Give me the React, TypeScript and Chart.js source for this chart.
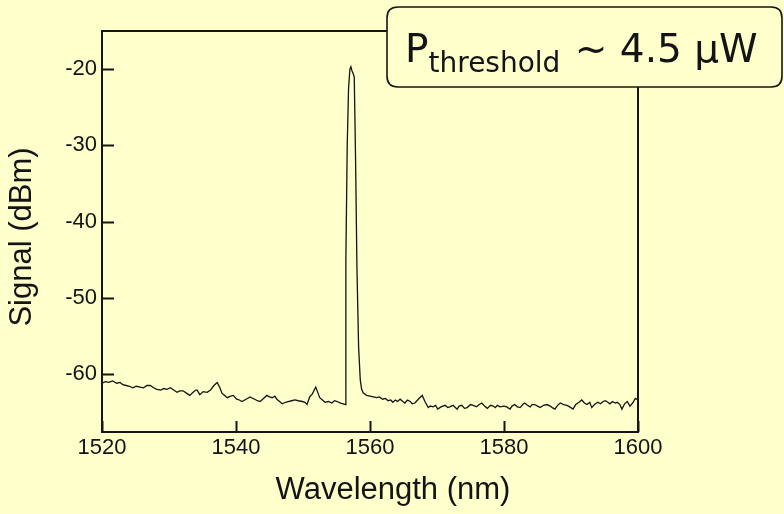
import React, { useEffect, useRef } from "react";
import { Chart, registerables } from "chart.js";

Chart.register(...registerables);

// ---- data ----
const wavelengths: number[] = [
  1520.0, 1520.5, 1521.0, 1521.6, 1522.2, 1522.7, 1523.1, 1523.6, 1524.1, 1524.6,
  1525.1, 1525.7, 1526.2, 1526.7, 1527.2, 1527.7, 1528.2, 1528.8, 1529.2, 1529.7,
  1530.2, 1530.7, 1531.2, 1531.6, 1532.1, 1532.6, 1533.1, 1533.6, 1534.0, 1534.2,
  1534.6, 1535.1, 1535.7, 1536.2, 1536.7, 1537.2, 1537.6, 1537.9, 1538.3, 1538.7,
  1539.2, 1539.6, 1540.1,
  1540.5, 1540.9, 1541.5, 1542.1, 1542.5, 1542.8, 1543.2, 1543.6, 1544.1, 1544.6,
  1545.0, 1545.4, 1545.8, 1546.1, 1546.5, 1546.9, 1547.4, 1547.8, 1548.3, 1548.8,
  1549.3, 1549.9, 1550.3, 1550.6, 1551.0, 1551.4, 1551.9, 1552.2, 1552.5, 1552.9,
  1553.3, 1553.8, 1554.3, 1554.7, 1555.1, 1555.6, 1556.0, 1556.35,
  1556.4, 1556.6, 1556.8, 1557.0, 1557.15, 1557.3, 1557.45, 1557.65, 1557.85, 1558.05,
  1558.3, 1558.55, 1558.75,
  1559.0, 1559.5, 1560.0, 1560.5, 1561.0, 1561.4, 1561.9, 1562.3, 1562.7, 1563.1,
  1563.4, 1563.8, 1564.1, 1564.5, 1564.9, 1565.2, 1565.6, 1566.0, 1566.3, 1566.7,
  1567.2, 1567.8, 1568.2, 1568.7, 1569.0, 1569.4, 1569.8, 1570.1, 1570.6, 1571.2,
  1571.6, 1571.9, 1572.4, 1573.0, 1573.3, 1573.7, 1574.1, 1574.5, 1575.0, 1575.4,
  1575.9, 1576.3, 1576.7, 1577.1, 1577.5, 1578.0, 1578.4, 1578.7, 1579.0, 1579.4,
  1580.0, 1580.4, 1580.9, 1581.2, 1581.6, 1582.0, 1582.4, 1582.8, 1583.1, 1583.5,
  1583.9, 1584.2, 1584.6, 1585.0, 1585.4, 1585.9, 1586.4, 1586.9, 1587.2, 1587.6,
  1588.0, 1588.4, 1588.9, 1589.4, 1589.8, 1590.3, 1590.7, 1591.2, 1591.6, 1592.0,
  1592.4, 1592.8, 1593.1, 1593.5, 1594.0, 1594.4, 1594.8, 1595.1, 1595.5, 1595.8,
  1596.2, 1596.6, 1596.9, 1597.3, 1597.6, 1598.0, 1598.4, 1598.8, 1599.2, 1599.6,
  1600.0,
];

const signal: number[] = [
  -61.2, -61.0, -61.1, -60.9, -61.2, -61.1, -61.4, -61.5, -61.6, -61.8,
  -61.6, -61.7, -61.8, -61.5, -61.5, -61.8, -62.0, -62.1, -61.9, -62.0,
  -61.8, -62.1, -62.4, -62.2, -62.2, -62.5, -62.8, -62.4, -62.1, -62.1,
  -62.7, -62.3, -62.4, -62.1, -61.5, -61.1, -61.8, -62.5, -62.8, -63.1,
  -62.9, -62.8, -63.3,
  -63.4, -63.6, -63.3, -63.0, -63.2, -63.3, -63.5, -63.6, -63.2, -62.8,
  -63.0, -63.1, -62.9, -63.3, -63.6, -63.9, -63.7, -63.6, -63.5, -63.4,
  -63.5, -63.6, -63.7, -64.0, -63.0, -62.6, -61.7, -62.4, -63.1, -63.4,
  -63.7, -63.6, -63.8, -63.5, -63.6, -63.8, -63.9, -64.0,
  -45.0, -30.0, -22.5, -20.0, -19.7, -20.2, -20.5, -21.0, -32.0, -46.0,
  -56.5, -60.8, -62.0,
  -62.5, -62.8, -62.9, -63.0, -63.1, -63.0, -63.3, -63.2, -63.5, -63.4,
  -63.7, -63.4, -63.6, -63.3, -63.6, -63.8, -63.4, -63.6, -63.9, -63.8,
  -63.3, -62.8, -63.6, -64.4, -64.2, -64.3, -64.1, -64.6, -64.3, -64.1,
  -64.4, -64.3, -64.1, -64.6, -64.2, -64.1, -64.5, -64.4, -64.0, -64.1,
  -64.3, -64.0, -63.8, -64.2, -64.5, -64.1, -64.2, -64.4, -64.1, -64.3,
  -64.2, -64.3, -64.6, -64.2, -64.0, -64.3, -64.4, -64.0, -63.8, -64.1,
  -64.3, -64.0, -64.0, -64.2, -64.4, -64.1, -64.0, -64.2, -64.4, -64.6,
  -64.1, -63.8, -64.0, -64.1, -64.3, -64.6, -64.0, -63.7, -63.4, -63.8,
  -64.0, -63.7, -64.4, -64.0, -63.7, -63.9, -63.6, -63.5, -63.7, -63.9,
  -63.6, -63.8, -63.7, -64.0, -64.6, -63.9, -63.6, -64.2, -63.8, -63.2,
  -63.4,
];

const xTicks: number[] = [1520, 1540, 1560, 1580, 1600];
const yTicks: number[] = [-60, -50, -40, -30, -20];
const xRange: number[] = [1520, 1600];
const yRange: number[] = [-67.6, -15];
const xTitle = "Wavelength (nm)";
const yTitle = "Signal (dBm)";
const annotationMain = "P";
const annotationSub = "threshold";
const annotationRest = " ~ 4.5 \u03BCW";

const BG = "#FFFFCC";
const INK = "#141414";
const SANS = '"Liberation Sans", Arial, sans-serif';

const framePlugin = {
  id: "frame",
  beforeDraw(chart: any) {
    const { ctx, width, height } = chart;
    ctx.save();
    ctx.fillStyle = BG;
    ctx.fillRect(0, 0, width, height);
    ctx.restore();
  },
  afterDraw(chart: any) {
    const { ctx, chartArea, scales } = chart;
    const { left, right, top, bottom } = chartArea;
    ctx.save();
    ctx.strokeStyle = INK;
    ctx.lineWidth = 2;
    ctx.strokeRect(left, top, right - left, bottom - top);
    // inward ticks
    scales.y.ticks.forEach((t: any) => {
      const py = Math.round(scales.y.getPixelForValue(t.value)) + 0.5;
      ctx.beginPath();
      ctx.moveTo(left, py);
      ctx.lineTo(left + 12, py);
      ctx.stroke();
    });
    scales.x.ticks.forEach((t: any) => {
      const px = Math.round(scales.x.getPixelForValue(t.value)) + 0.5;
      ctx.beginPath();
      ctx.moveTo(px, bottom);
      ctx.lineTo(px, bottom - 11);
      ctx.stroke();
    });

    // axis titles
    ctx.fillStyle = INK;
    ctx.font = `31px ${SANS}`;
    ctx.textAlign = "center";
    ctx.textBaseline = "middle";
    ctx.fillText(xTitle, 393, 490);
    ctx.save();
    ctx.translate(22, 237);
    ctx.rotate(-Math.PI / 2);
    ctx.fillText(yTitle, 0, 0);
    ctx.restore();

    // annotation box
    const bx = 387, by = 7, bw = 395, bh = 80, r = 11;
    ctx.beginPath();
    ctx.moveTo(bx + r, by);
    ctx.lineTo(bx + bw - r, by);
    ctx.quadraticCurveTo(bx + bw, by, bx + bw, by + r);
    ctx.lineTo(bx + bw, by + bh - r);
    ctx.quadraticCurveTo(bx + bw, by + bh, bx + bw - r, by + bh);
    ctx.lineTo(bx + r, by + bh);
    ctx.quadraticCurveTo(bx, by + bh, bx, by + bh - r);
    ctx.lineTo(bx, by + r);
    ctx.quadraticCurveTo(bx, by, bx + r, by);
    ctx.closePath();
    ctx.fillStyle = BG;
    ctx.fill();
    ctx.lineWidth = 1.6;
    ctx.strokeStyle = INK;
    ctx.stroke();

    ctx.fillStyle = INK;
    ctx.textBaseline = "alphabetic";
    ctx.textAlign = "left";
    let x = 405;
    ctx.font = '39px "DejaVu Sans"';
    ctx.fillText(annotationMain, x, 62);
    x += ctx.measureText(annotationMain).width;
    ctx.font = '28px "DejaVu Sans"';
    ctx.fillText(annotationSub, x, 72);
    x += ctx.measureText(annotationSub).width + 2;
    ctx.font = '39px "DejaVu Sans"';
    ctx.fillText(annotationRest, x, 62);
    ctx.restore();
  },
};

export default function App() {
  const canvasRef = useRef<HTMLCanvasElement | null>(null);

  useEffect(() => {
    const canvas = canvasRef.current;
    if (!canvas) return;
    const points = wavelengths.map((w, i) => ({ x: w, y: signal[i] }));
    const chart = new Chart(canvas, {
      type: "line",
      data: {
        datasets: [
          {
            data: points,
            borderColor: INK,
            borderWidth: 1.3,
            pointRadius: 0,
            tension: 0,
            fill: false,
          },
        ],
      },
      options: {
        responsive: false,
        animation: false,
        events: [],
        layout: { padding: { left: 0, right: 146, top: 31, bottom: 0 } },
        plugins: { legend: { display: false }, tooltip: { enabled: false } },
        scales: {
          x: {
            type: "linear",
            min: xRange[0],
            max: xRange[1],
            grid: { display: false, drawTicks: false },
            border: { display: false },
            afterBuildTicks: (s: any) => {
              s.ticks = xTicks.map((v) => ({ value: v }));
            },
            afterFit: (s: any) => {
              s.height = 82;
            },
            ticks: {
              color: INK,
              padding: 3,
              maxRotation: 0,
              autoSkip: false,
              font: { family: SANS, size: 22 },
              callback: (v: any) => String(v),
            },
          },
          y: {
            type: "linear",
            min: yRange[0],
            max: yRange[1],
            grid: { display: false, drawTicks: false },
            border: { display: false },
            afterBuildTicks: (s: any) => {
              s.ticks = yTicks.map((v) => ({ value: v }));
            },
            afterFit: (s: any) => {
              s.width = 102;
            },
            ticks: {
              color: INK,
              padding: 5,
              autoSkip: false,
              font: { family: SANS, size: 22 },
              callback: (v: any) => String(v),
            },
          },
        },
      },
      plugins: [framePlugin],
    });
    return () => chart.destroy();
  }, []);

  return (
    <div style={{ position: "fixed", left: 0, top: 0, width: 784, height: 514, background: BG }}>
      <canvas ref={canvasRef} width={784} height={514} style={{ display: "block" }} />
    </div>
  );
}
